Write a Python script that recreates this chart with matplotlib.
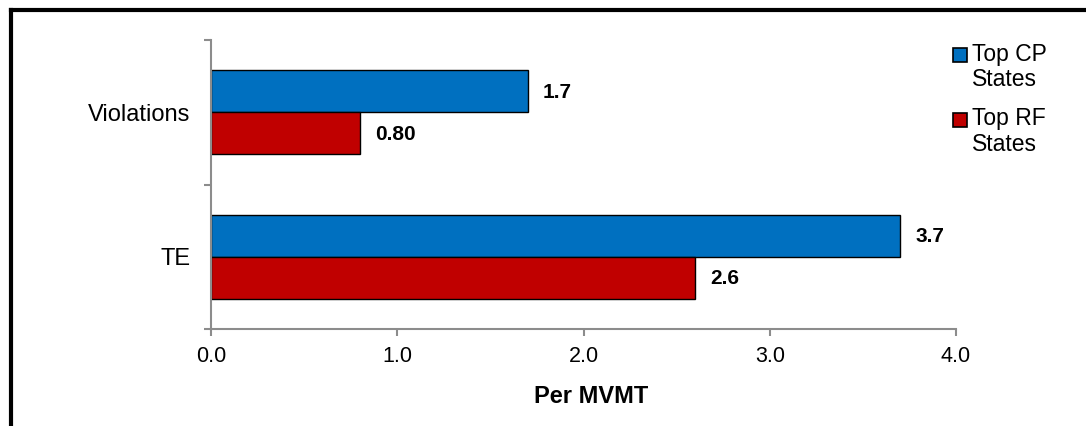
import matplotlib.pyplot as plt
from matplotlib.lines import Line2D
import numpy as np

plt.rcParams['font.family'] = ['Liberation Sans', 'DejaVu Sans']

categories = ["TE", "Violations"]
cp_values = [3.7, 1.7]
rf_values = [2.6, 0.80]
cp_labels = ["3.7", "1.7"]
rf_labels = ["2.6", "0.80"]
series_names = ["Top CP\nStates", "Top RF\nStates"]
xticks = [0.0, 1.0, 2.0, 3.0, 4.0]

blue = "#0070C0"
red = "#C00000"
axis_grey = "#8c8c8c"

W, H = 1086, 426
fig = plt.figure(figsize=(W / 100, H / 100), dpi=100)
ax = fig.add_axes([211 / W, 1 - 329 / H, 745 / W, 289 / H])

pos = np.arange(len(categories)) + 0.5
h = 0.29
ax.barh(pos + h / 2, cp_values, height=h, color=blue, edgecolor="black", linewidth=1)
ax.barh(pos - h / 2, rf_values, height=h, color=red, edgecolor="black", linewidth=1)

for y, v, s in zip(pos + h / 2, cp_values, cp_labels):
    ax.annotate(s, (v, y), xytext=(15, -1), textcoords="offset pixels",
                va="center", ha="left", fontsize=15, fontweight="bold")
for y, v, s in zip(pos - h / 2, rf_values, rf_labels):
    ax.annotate(s, (v, y), xytext=(15, -1), textcoords="offset pixels",
                va="center", ha="left", fontsize=15, fontweight="bold")

ax.set_xlim(0, 4)
ax.set_ylim(0, 2)
ax.set_xticks(xticks)
ax.set_xticklabels([f"{t:.1f}" for t in xticks], fontsize=15.5)
ax.set_yticks([0, 1, 2])
ax.set_yticklabels([])
ax.set_yticks(pos, minor=True)
ax.set_yticklabels(categories, minor=True, fontsize=17)
ax.tick_params(axis="y", which="minor", length=0, pad=15)
ax.tick_params(axis="y", which="major", direction="out", length=5, color=axis_grey, width=1.5)
ax.tick_params(axis="x", direction="out", length=5, color=axis_grey, width=1.5, pad=7)

for side in ["top", "right"]:
    ax.spines[side].set_visible(False)
for side in ["left", "bottom"]:
    ax.spines[side].set_color(axis_grey)
    ax.spines[side].set_linewidth(1.5)

ax.set_xlabel("Per MVMT", fontsize=17, fontweight="bold", labelpad=13)
ax.xaxis.label.set_x((591 - 211) / 745)

# legend: swatch sits beside the first line of each two-line label
for i, (name, c) in enumerate(zip(series_names, (blue, red))):
    top = 42.5 + i * 65
    fig.add_artist(Line2D([959.5 / W], [1 - (top + 12) / H], marker="s", linestyle="none",
                          markersize=10, markerfacecolor=c, markeredgecolor="black",
                          markeredgewidth=1.2, transform=fig.transFigure))
    fig.text(972 / W, 1 - top / H, name, fontsize=16.5, va="top", ha="left",
             linespacing=1.12)

# page frame: top and left edges only
fig.add_artist(Line2D([11 / W, 11 / W], [0, 1 - 10 / H], color="black",
                      linewidth=3, transform=fig.transFigure))
fig.add_artist(Line2D([11 / W, 1], [1 - 10 / H, 1 - 10 / H], color="black",
                      linewidth=3, transform=fig.transFigure))

fig.savefig("out.png", dpi=100)
